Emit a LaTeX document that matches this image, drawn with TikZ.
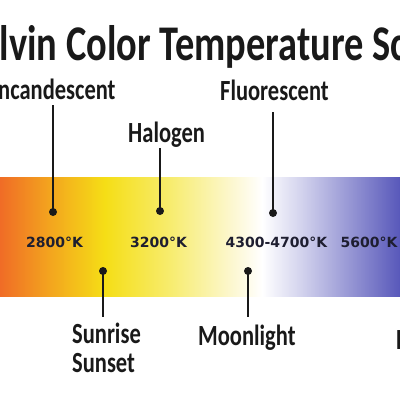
\documentclass[tikz,border=0pt]{standalone}
\usepackage{fontspec}
\setmainfont{Carlito}
\newfontfamily\tempfont{DejaVu Sans}
\definecolor{k0}{RGB}{240,108,38}
\definecolor{k1}{RGB}{243,165,30}
\definecolor{k2}{RGB}{245,222,22}
\definecolor{k3}{RGB}{247,236,110}
\definecolor{k4}{RGB}{252,247,205}
\definecolor{k5}{RGB}{255,255,255}
\definecolor{k6}{RGB}{212,212,238}
\definecolor{k7}{RGB}{88,88,186}
\definecolor{tempink}{RGB}{30,30,48}
\pgfdeclarehorizontalshading{kelvin}{100bp}{color(0bp)=(k0); color(25bp)=(k0); color(31.25bp)=(k1); color(38.125bp)=(k2); color(46.25bp)=(k3); color(53.75bp)=(k4); color(57.75bp)=(k5); color(62.5bp)=(k6); color(75bp)=(k7); color(100bp)=(k7)}
\newcommand\vstretch[1]{\scalebox{1}[1.3]{#1}}
\tikzset{
  lbl/.style={anchor=base west, inner sep=0pt, font=\fontsize{22.5}{22.5}\selectfont\bfseries, text=black!90},
  ttl/.style={anchor=base west, inner sep=0pt, font=\fontsize{38.4}{38.4}\selectfont\bfseries, text=black!90},
  temp/.style={anchor=base, inner sep=0pt, font=\fontsize{14}{14}\selectfont\tempfont\bfseries, text=tempink},
  dotmark/.style={circle, fill=black!90, inner sep=0pt, minimum size=8pt},
  stem/.style={line width=2.4pt, draw=black!90}
}
\begin{document}
\begin{tikzpicture}[x=1pt,y=-1pt]
\useasboundingbox (0,0) rectangle (400,400);
\clip (0,0) rectangle (400,400);
\fill[white] (0,0) rectangle (400,400);
% colour bar
\shade[shading=kelvin] (0,177) rectangle (400,296);
% title
\node[ttl] (title) at (-40,60) {\vstretch{Kelvin Color Temperature Scale}};
% upper labels
\node[lbl] (inc) at (-8,99) {\vstretch{Incandescent}};
\node[lbl] (hal) at (128,142) {\vstretch{Halogen}};
\node[lbl] (flu) at (220,100) {\vstretch{Fluorescent}};
% lower labels
\node[lbl] (sun) at (72,343) {\vstretch{\begin{tabular}[t]{@{}l@{}}Sunrise\\[0pt]Sunset\end{tabular}}};
\node[lbl] (moon) at (198,345) {\vstretch{Moonlight}};
\node[lbl] (day) at (396,349) {\vstretch{Daylight}};
% temperatures
\node[temp] (t2800) at (54.5,247) {2800°K};
\node[temp] (t3200) at (158.5,247) {3200°K};
\node[temp] (t4300) at (276.5,247) {4300-4700°K};
\node[temp] (t5600) at (369,247) {5600°K};
% markers
\coordinate (inctop) at (53,105);
\node[dotmark] (incdot) at (53,212) {};
\coordinate (haltop) at (160,148);
\node[dotmark] (haldot) at (160,211) {};
\coordinate (flutop) at (273,112);
\node[dotmark] (fludot) at (273,213) {};
\node[dotmark] (sundot) at (103,271) {};
\coordinate (sunbot) at (103,317);
\node[dotmark] (moondot) at (248,271) {};
\coordinate (moonbot) at (248,317);
\draw[stem] (inctop) -- (incdot.center);
\draw[stem] (haltop) -- (haldot.center);
\draw[stem] (flutop) -- (fludot.center);
\draw[stem] (sundot.center) -- (sunbot);
\draw[stem] (moondot.center) -- (moonbot);
\end{tikzpicture}
\end{document}
